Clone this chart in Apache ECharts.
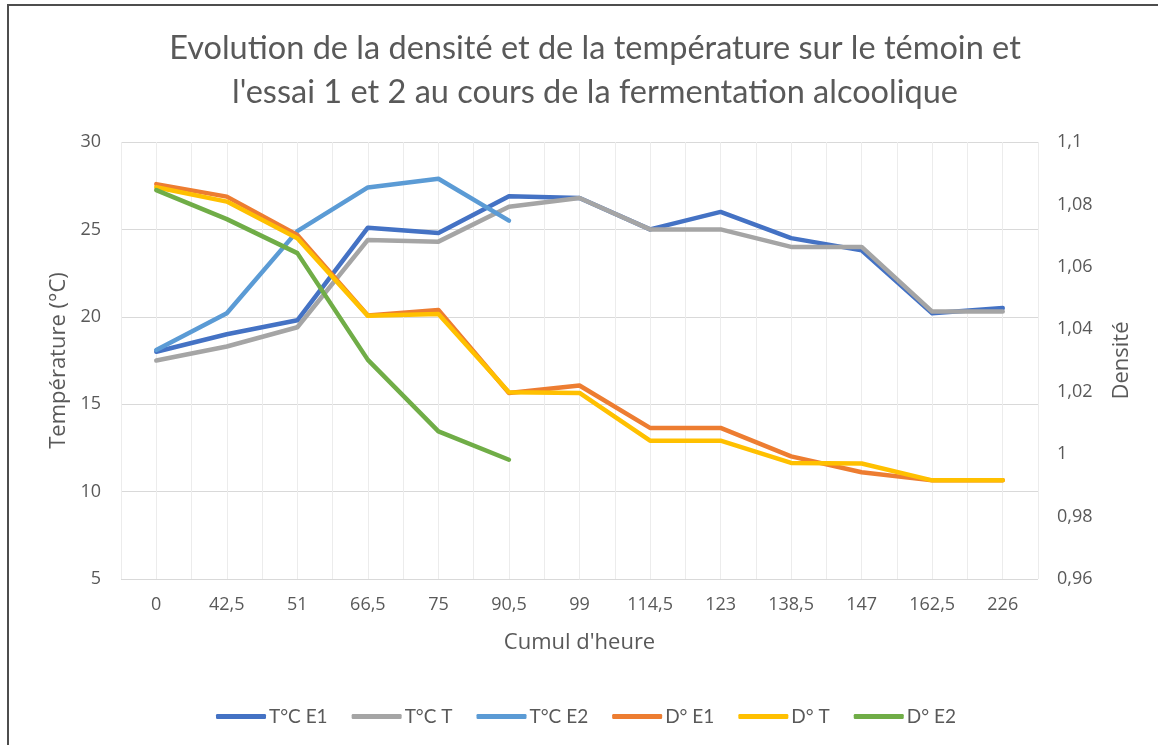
<!DOCTYPE html>
<html>
<head>
<meta charset="utf-8">
<script src="https://cdn.jsdelivr.net/npm/echarts@6/dist/echarts.min.js"></script>
<style>
  html, body { margin: 0; padding: 0; background: #fff; }
  #main { position: absolute; left: 0; top: 0; width: 1158px; height: 745px; }
  .edge-top { position: absolute; left: 7px; top: 4px; width: 1151px; height: 2px; background: #4d4d4d; }
  .edge-left { position: absolute; left: 7px; top: 4px; width: 2px; height: 741px; background: #4d4d4d; }
</style>
</head>
<body>
<div id="main"></div>
<div class="edge-top"></div>
<div class="edge-left"></div>
<script>
// heures cumulées (axe des x)
var heures = ['0', '42,5', '51', '66,5', '75', '90,5', '99', '114,5', '123', '138,5', '147', '162,5', '226'];

// températures (°C)
var tE1 = [18, 19, 19.8, 25.1, 24.8, 26.9, 26.8, 25, 26, 24.5, 23.8, 20.2, 20.5];
var tT  = [17.5, 18.3, 19.4, 24.4, 24.3, 26.3, 26.8, 25, 25, 24, 24, 20.3, 20.3];
var tE2 = [18.1, 20.2, 24.9, 27.4, 27.9, 25.5];

// densités
var dE1 = [1.0865, 1.0825, 1.0702, 1.0444, 1.0462, 1.0196, 1.022, 1.0084, 1.0084, 0.9993, 0.9942, 0.9916, 0.9916];
var dT  = [1.0855, 1.0809, 1.0692, 1.0443, 1.0449, 1.0198, 1.0196, 1.0043, 1.0043, 0.9972, 0.997, 0.9916, 0.9916];
var dE2 = [1.0846, 1.0753, 1.0644, 1.0302, 1.0073, 0.9982];

var couleurs = ['#4472C4', '#A5A5A5', '#5B9BD5', '#ED7D31', '#FFC000', '#70AD47'];
var police = 'Lato, "Noto Sans", sans-serif';
var policeAxe = '"Open Sans", "Noto Sans", sans-serif';
var gris = '#595959';

var myChart = echarts.init(document.getElementById('main'));

function serie(nom, data, axe) {
    return {
        name: nom,
        type: 'line',
        yAxisIndex: axe,
        data: data,
        showSymbol: false,
        symbol: 'none',
        lineStyle: { width: 4.5, cap: 'round', join: 'round' },
        emphasis: { disabled: true }
    };
}

var option = {
    color: couleurs,
    animation: false,
    title: {
        text: "Evolution de la densité et de la température sur le témoin et\nl'essai 1 et 2 au cours de la fermentation alcoolique",
        left: 590,
        top: 22,
        textAlign: 'center',
        textStyle: {
            color: gris,
            fontFamily: police,
            fontWeight: 'normal',
            fontSize: 32.5,
            lineHeight: 44
        }
    },
    legend: {
        left: 211,
        top: 702,
        itemWidth: 50,
        itemHeight: 5,
        itemGap: 24,
        icon: 'roundRect',
        textStyle: { color: gris, fontFamily: police, fontSize: 19, padding: [0, 0, 0, -2] },
        data: ['T°C E1', 'T°C T', 'T°C E2', 'D° E1', 'D° T', 'D° E2']
    },
    grid: {
        left: 121,
        right: 120,
        top: 142,
        bottom: 166
    },
    xAxis: [
        {
            type: 'category',
            data: heures,
            boundaryGap: true,
            name: "Cumul d'heure",
            nameLocation: 'middle',
            nameGap: 53,
            nameTextStyle: { color: gris, fontFamily: policeAxe, fontSize: 22 },
            axisLine: { show: false },
            axisTick: { show: false },
            axisLabel: { color: gris, fontFamily: policeAxe, fontSize: 18, margin: 17 },
            splitLine: { show: false }
        },
        {
            // quadrillage vertical (demi-catégories)
            type: 'value',
            min: 0,
            max: 26,
            interval: 1,
            show: true,
            axisLine: { show: false },
            axisTick: { show: false },
            axisLabel: { show: false },
            splitLine: { show: true, lineStyle: { color: '#ececec', width: 1 } }
        }
    ],
    yAxis: [
        {
            type: 'value',
            min: 5,
            max: 30,
            interval: 5,
            name: 'Température (°C)',
            nameLocation: 'middle',
            nameGap: 50,
            nameTextStyle: { color: gris, fontFamily: policeAxe, fontSize: 22 },
            axisLine: { show: false },
            axisTick: { show: false },
            axisLabel: { color: gris, fontFamily: policeAxe, fontSize: 18, margin: 20 },
            splitLine: { lineStyle: { color: '#d9d9d9', width: 1 } }
        },
        {
            type: 'value',
            min: 0.96,
            max: 1.1,
            interval: 0.02,
            name: 'Densité',
            nameLocation: 'middle',
            nameGap: 73,
            nameTextStyle: { color: gris, fontFamily: policeAxe, fontSize: 22 },
            axisLine: { show: false },
            axisTick: { show: false },
            axisLabel: {
                color: gris, fontFamily: policeAxe, fontSize: 18, margin: 19,
                formatter: function (v) {
                    return String(Math.round(v * 100) / 100).replace('.', ',');
                }
            },
            splitLine: { show: false }
        }
    ],
    series: [
        serie('T°C E1', tE1, 0),
        serie('T°C T', tT, 0),
        serie('T°C E2', tE2, 0),
        serie('D° E1', dE1, 1),
        serie('D° T', dT, 1),
        serie('D° E2', dE2, 1)
    ]
};

myChart.setOption(option);
window.addEventListener('resize', function () {
    myChart.resize();
});
</script>
</body>
</html>
